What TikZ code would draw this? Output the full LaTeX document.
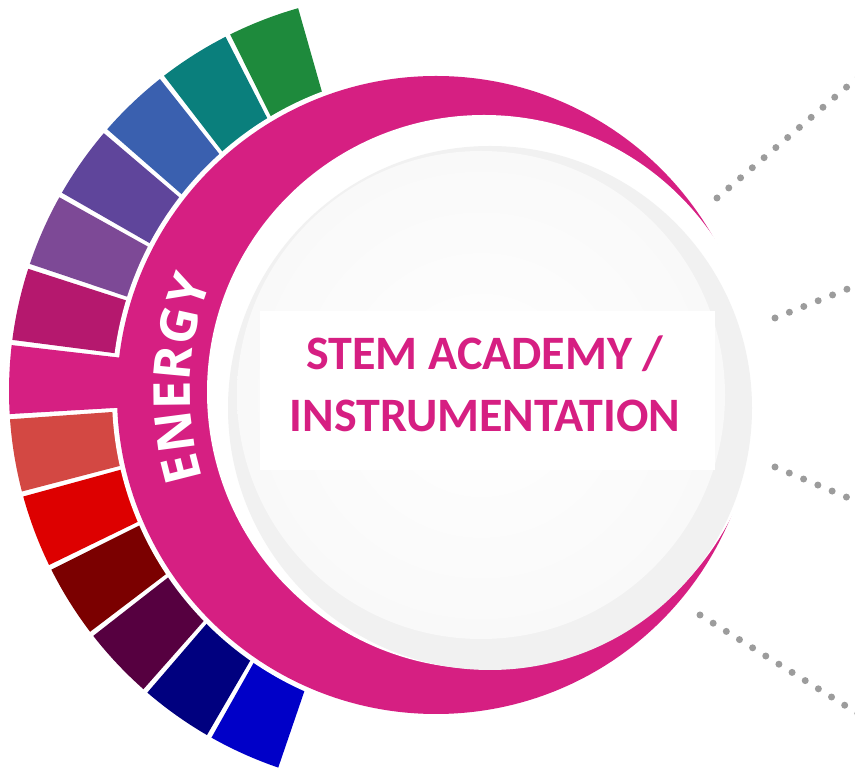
\documentclass[tikz,border=0pt]{standalone}
\usepackage{fontspec}
\newfontfamily\carlito{Carlito}
\newfontfamily\opensans{Open Sans}
\usetikzlibrary{decorations.text}
\definecolor{mag}{HTML}{D61F82}
\definecolor{sgGreen}{HTML}{1E8A3C}
\definecolor{sgTeal}{HTML}{0A7F7C}
\definecolor{sgBlueA}{HTML}{3A60AF}
\definecolor{sgPurple}{HTML}{5F459B}
\definecolor{sgViolet}{HTML}{7D4996}
\definecolor{sgPink}{HTML}{B5186E}
\definecolor{sgSalmon}{HTML}{D34843}
\definecolor{sgRed}{HTML}{DD0000}
\definecolor{sgMaroon}{HTML}{7B0000}
\definecolor{sgDPurple}{HTML}{560040}
\definecolor{sgNavy}{HTML}{00007F}
\definecolor{sgBlueB}{HTML}{0000C8}
\definecolor{greyA}{HTML}{F1F1F1}
\definecolor{greyB}{HTML}{F9F9F9}
\definecolor{dotgrey}{HTML}{9C9C9C}
\newcommand\mysegm[3]{\fill[#3] (c1) -- ++(#1+0.375:398) arc[start angle=#1+0.375, end angle=#2-0.375, radius=398] -- cycle;}
\tikzset{
  dotline/.style={draw=dotgrey, line width=7pt, line cap=round, dash pattern=on 0pt off 15.5pt},
  maintext/.style={font=\carlito\bfseries\fontsize{48}{48}\selectfont, text=mag, anchor=base, inner sep=0pt}
}
\begin{document}
\begin{tikzpicture}[x=1pt,y=1pt]
\useasboundingbox (0,0) rectangle (855,771);
\coordinate (c1) at (407,380);
\coordinate (c2) at (436,376);
\coordinate (c3) at (484,379);
\coordinate (c4) at (490,363);
\coordinate (c5) at (481,376);
% colour segments
\mysegm{105.5}{116.75}{sgGreen}
\mysegm{116.75}{128}{sgTeal}
\mysegm{128}{139.25}{sgBlueA}
\mysegm{139.25}{150.5}{sgPurple}
\mysegm{150.5}{161.75}{sgViolet}
\mysegm{161.75}{173}{sgPink}
\mysegm{183.7}{195}{sgSalmon}
\mysegm{195}{206.3}{sgRed}
\mysegm{206.3}{217.6}{sgMaroon}
\mysegm{217.6}{228.9}{sgDPurple}
\mysegm{228.9}{240.2}{sgNavy}
\mysegm{240.2}{251.5}{sgBlueB}
% magenta crescent
\fill[white] (c2) circle[radius=324];
\fill[mag] (c2) circle[radius=319];
\mysegm{173}{183.7}{mag}
\fill[white] (c3) circle[radius=277];
% grey disk
\fill[greyA] (c4) circle[radius=262];
\shade[inner color=white, outer color=greyB] (c5) circle[radius=244];
\fill[white] (260,301) rectangle (715,460);
% texts
\node[maintext] (t1) at (485,401) {STEM ACADEMY /};
\node[maintext] (t2) at (485,339) {INSTRUMENTATION};
\path[shift={(c3)}, decorate, decoration={text along path, text align=center, text color=white,
  text={|\opensans\bfseries\fontsize{51}{51}\selectfont|ENERGY}}]
  (215:294) arc[start angle=215, end angle=140, radius=294];
% dotted connectors
\coordinate (d1a) at (717,573); \coordinate (d1b) at (870,704);
\coordinate (d2a) at (775,453); \coordinate (d2b) at (870,491);
\coordinate (d3a) at (775,304); \coordinate (d3b) at (870,264);
\coordinate (d4a) at (700,156); \coordinate (d4b) at (870,50);
\draw[dotline] (d1a) -- (d1b);
\draw[dotline] (d2a) -- (d2b);
\draw[dotline] (d3a) -- (d3b);
\draw[dotline] (d4a) -- (d4b);
\end{tikzpicture}
\end{document}
